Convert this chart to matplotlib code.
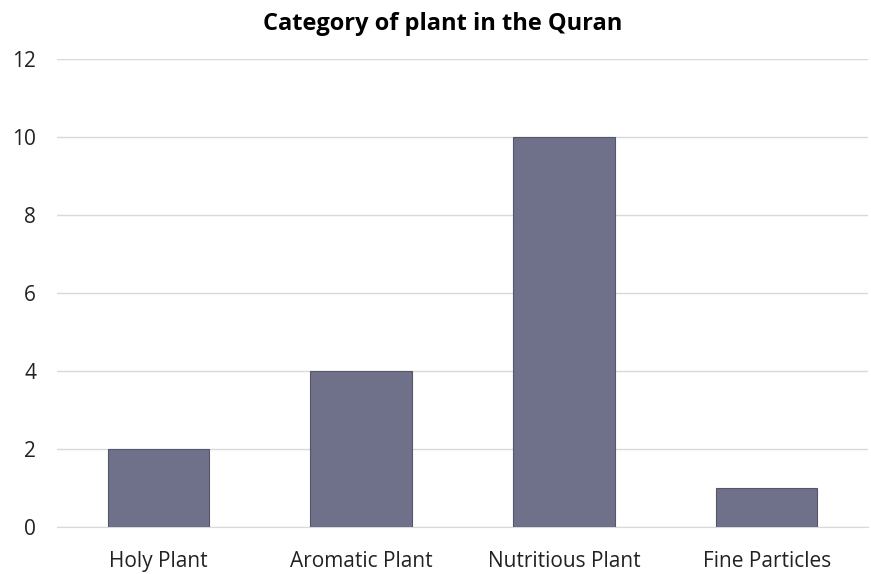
import matplotlib.pyplot as plt

categories = ['Holy Plant', 'Aromatic Plant', 'Nutritious Plant', 'Fine Particles']
counts = [2, 4, 10, 1]
y_ticks = [0, 2, 4, 6, 8, 10, 12]

plt.rcParams['font.family'] = ['Open Sans', 'DejaVu Sans']

fig = plt.figure(figsize=(8.71, 5.74), dpi=100)
ax = fig.add_axes([0.0654, 0.0819, 0.9312, 0.8153])

ax.bar(range(len(categories)), counts, width=0.5, color='#6f7089',
       edgecolor='#55566a', linewidth=0.8, zorder=3)

ax.set_xlim(-0.5, len(categories) - 0.5)
ax.set_ylim(0, 12)
ax.set_yticks(y_ticks)
ax.set_xticks(range(len(categories)))
ax.set_xticklabels(categories)
ax.yaxis.grid(True, color='#d9d9d9', linewidth=1, zorder=0)
ax.set_axisbelow(True)
for s in ['top', 'right', 'left']:
    ax.spines[s].set_visible(False)
ax.spines['bottom'].set_color('#d9d9d9')
ax.tick_params(axis='both', length=0, labelsize=15, colors='#222222')
ax.tick_params(axis='y', pad=15)
ax.tick_params(axis='x', pad=17)

# title sits slightly left of the axes centre, as in the source
ax.set_title('Category of plant in the Quran', fontsize=17, fontweight='bold',
             pad=21, color='#000000', x=0.476)

fig.savefig('out.png', dpi=100)
